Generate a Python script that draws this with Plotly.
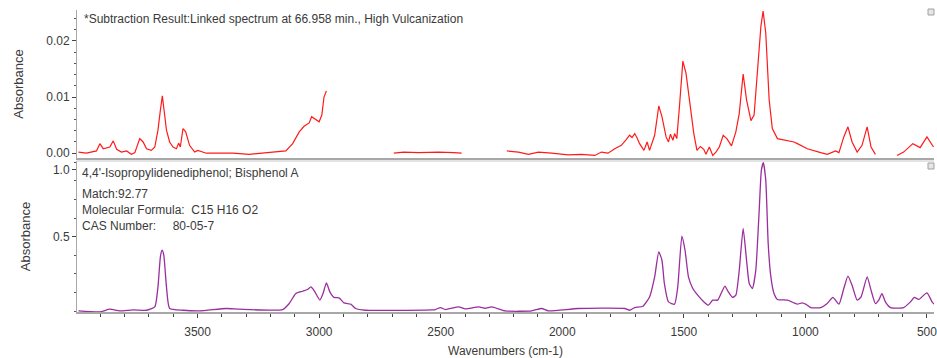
import plotly.graph_objects as go

# ---- Subtraction result spectrum (None = no data) ----
sub_wn = [3990, 3957, 3916, 3902, 3888, 3861, 3847, 3833, 3813, 3792, 3772, 3758,
          3738, 3724, 3710, 3690, 3676, 3663, 3653, 3645, 3638, 3628, 3615, 3601,
          3587, 3578, 3571, 3560, 3549, 3533, 3512, 3499, 3464, 3355, 3287, 3191,
          3137, 3109, 3082, 3062, 3041, 3031, 3016, 3000, 2989, 2980, 2970,
          None,
          2693, 2652, 2591, 2509, 2447, 2414,
          None,
          2228, 2180, 2139, 2098, 2044, 1976, 1921, 1866, 1839, 1812, 1784, 1757,
          1737, 1723, 1713, 1702, 1693, 1682, 1664, 1651, 1641, 1620, 1603, 1590,
          1573, 1563, 1555, 1545, 1538, 1529, 1518, 1504, 1491, 1477, 1459, 1446,
          1432, 1418, 1409, 1395, 1381, 1368, 1354, 1338, 1323, 1304, 1286, 1272,
          1256, 1242, 1224, 1211, 1197, 1183, 1174, 1163, 1149, 1136, 1115, 1074,
          1047, 1033, 992, 937, 910, 876, 862, 842, 825, 808, 787, 767, 746, 730, 712,
          None,
          623, 596, 558, 528, 500, 473]
sub_abs = [0.0002, 0.0000, 0.0004, 0.0017, 0.0008, 0.0011, 0.0022, 0.0007, 0.0002, 0.0004, -0.0002, 0.0001,
           0.0026, 0.0020, 0.0008, 0.0005, 0.0011, 0.0041, 0.0077, 0.0102, 0.0077, 0.0041, 0.0020, 0.0011,
           0.0008, 0.0018, 0.0011, 0.0044, 0.0038, 0.0014, 0.0002, 0.0005, 0.0000, 0.0000, -0.0002, 0.0001,
           0.0004, 0.0017, 0.0038, 0.0048, 0.0054, 0.0065, 0.0060, 0.0056, 0.0068, 0.0100, 0.0111,
           None,
           0.0000, 0.0002, 0.0001, 0.0002, 0.0001, 0.0000,
           None,
           0.0004, 0.0002, -0.0002, 0.0002, 0.0000, -0.0003, -0.0002, -0.0004, 0.0002, 0.0000, 0.0008, 0.0014,
           0.0024, 0.0032, 0.0028, 0.0035, 0.0028, 0.0017, 0.0005, 0.0020, 0.0005, 0.0032, 0.0084, 0.0065,
           0.0029, 0.0020, 0.0034, 0.0023, 0.0035, 0.0026, 0.0083, 0.0164, 0.0142, 0.0095, 0.0035, 0.0005,
           0.0012, 0.0007, -0.0002, 0.0011, -0.0004, 0.0002, 0.0011, 0.0032, 0.0026, 0.0013, 0.0038, 0.0071,
           0.0141, 0.0095, 0.0058, 0.0068, 0.0154, 0.0226, 0.0253, 0.0214, 0.0095, 0.0044, 0.0026, 0.0022,
           0.0020, 0.0017, 0.0008, 0.0001, -0.0002, 0.0004, 0.0001, 0.0029, 0.0047, 0.0020, 0.0002, 0.0014, 0.0047, 0.0011, -0.0002,
           None,
           -0.0004, 0.0002, 0.0017, 0.0010, 0.0029, 0.0011]

# ---- Library match: Bisphenol A ----
ref_wn = [3990, 3902, 3861, 3820, 3765, 3710, 3676, 3663, 3653, 3646, 3639, 3628,
          3615, 3560, 3492, 3382, 3328, 3150, 3123, 3096, 3068, 3048, 3034, 3020,
          2997, 2984, 2970, 2956, 2939, 2918, 2898, 2870, 2850, 2809, 2536, 2522,
          2501, 2481, 2426, 2399, 2344, 2317, 2290, 2235, 2126, 2085, 2057, 1935,
          1743, 1723, 1702, 1668, 1641, 1620, 1603, 1590, 1580, 1563, 1538, 1525,
          1508, 1495, 1481, 1463, 1443, 1415, 1399, 1381, 1361, 1347, 1331, 1317,
          1300, 1286, 1272, 1256, 1242, 1231, 1218, 1204, 1190, 1181, 1173, 1163,
          1153, 1142, 1129, 1115, 1074, 1047, 1033, 1013, 999, 978, 937, 910, 887,
          862, 842, 825, 808, 787, 771, 746, 730, 712, 698, 685, 671, 650, 596,
          568, 552, 534, 500, 479, 471]
ref_abs = [-0.050, -0.057, -0.037, -0.050, -0.042, -0.045, -0.020, 0.128, 0.351, 0.400, 0.363, 0.128,
           -0.032, -0.045, -0.050, -0.032, -0.037, -0.040, 0.005, 0.079, 0.096, 0.109, 0.128, 0.099,
           0.030, 0.079, 0.158, 0.091, 0.050, 0.047, 0.010, 0.000, -0.032, -0.045, -0.042, -0.040,
           -0.025, -0.040, -0.020, -0.035, -0.020, -0.030, -0.020, -0.050, -0.050, -0.032, -0.050, -0.032,
           -0.032, -0.045, -0.025, -0.015, 0.054, 0.203, 0.388, 0.326, 0.153, 0.017, 0.000, 0.128,
           0.504, 0.400, 0.203, 0.116, 0.067, 0.013, -0.007, 0.030, 0.030, 0.079, 0.134, 0.091,
           0.050, 0.067, 0.252, 0.562, 0.326, 0.153, 0.116, 0.252, 0.697, 0.994, 1.050, 0.920,
           0.450, 0.203, 0.079, 0.035, 0.030, 0.010, 0.000, 0.010, 0.000, -0.025, -0.025, 0.005, 0.050,
           0.000, 0.116, 0.208, 0.141, 0.030, 0.054, 0.203, 0.104, 0.005, 0.030, 0.079, 0.017, -0.025, -0.025,
           0.017, 0.050, 0.035, 0.084, 0.017, 0.000]

top_note = "*Subtraction Result:Linked spectrum at 66.958 min., High Vulcanization"
match_lines = ["4,4'-Isopropylidenediphenol; Bisphenol A",
               "Match:92.77",
               "Molecular Formula:  C15 H16 O2",
               "CAS Number:     80-05-7"]

W, H = 937, 358
ML, MR, MT, MB = 77, 0, 10, 46
PW, PH = W - ML - MR, H - MT - MB
FONT = "Liberation Sans, Arial, sans-serif"
TXT = "#3a3a3a"
AXC = "#a8a8a8"


def px(x):
    return (x - ML) / PW


def py(y):
    return (H - MB - y) / PH


fig = go.Figure()
fig.add_trace(go.Scatter(x=sub_wn, y=sub_abs, mode="lines", xaxis="x2", yaxis="y2",
                         line=dict(color="#ff1a1a", width=1.2), connectgaps=False,
                         hoverinfo="skip", showlegend=False))
fig.add_trace(go.Scatter(x=ref_wn, y=ref_abs, mode="lines", xaxis="x", yaxis="y",
                         line=dict(color="#9a2e9e", width=1.3, shape="spline", smoothing=0.5),
                         hoverinfo="skip", showlegend=False, cliponaxis=True))

xr = [3996, 471]
tick_font = dict(family=FONT, size=12, color=TXT)
fig.update_layout(
    width=W, height=H,
    margin=dict(l=ML, r=MR, t=MT, b=MB),
    paper_bgcolor="white", plot_bgcolor="white",
    font=dict(family=FONT, size=12, color=TXT),
    xaxis=dict(range=xr, anchor="y", domain=[0, 1], dtick=500, tick0=500,
               showgrid=False, zeroline=False, showline=True, linecolor=AXC, linewidth=2,
               ticks="outside", ticklen=4, tickcolor="#444", tickwidth=1,
               minor=dict(dtick=100, tick0=0, ticks="outside", ticklen=3, tickcolor="#444"),
               tickfont=tick_font, ticklabeloverflow="allow", ticklabelstandoff=4,
               title=dict(text="Wavenumbers (cm-1)", font=dict(family=FONT, size=12, color=TXT), standoff=10)),
    xaxis2=dict(range=xr, anchor="y2", matches="x", showticklabels=False, ticks="",
                showgrid=False, zeroline=False, showline=True, linecolor=AXC, linewidth=2),
    yaxis=dict(domain=[0, 0.5], range=[-0.058, 1.062], tickmode="array", tickvals=[0.5, 1.0],
               tickformat=".1f", showgrid=False, zeroline=False, showline=True,
               linecolor=AXC, linewidth=1, ticks="outside", ticklen=4, tickcolor="#444",
               minor=dict(tickmode="linear", tick0=0.5, dtick=0.138, ticks="outside", ticklen=2, tickcolor="#555"),
               tickfont=tick_font,
               title=dict(text="Absorbance", font=dict(family=FONT, size=13, color=TXT), standoff=19)),
    yaxis2=dict(domain=[0.51, 1], range=[-0.00085, 0.0255], dtick=0.01, tick0=0,
                tickformat=".2f", showgrid=False, zeroline=False, showline=True,
                linecolor=AXC, linewidth=1, ticks="outside", ticklen=4, tickcolor="#444",
                minor=dict(dtick=0.002, ticks="outside", ticklen=2, tickcolor="#555"),
                tickfont=tick_font,
                title=dict(text="Absorbance", font=dict(family=FONT, size=13, color=TXT), standoff=19)),
)

# top border of lower panel
fig.add_shape(type="line", xref="paper", yref="paper", x0=0, x1=1, y0=py(161), y1=py(161),
              line=dict(color="#c8c8c8", width=1))
# small panel markers at the right edge
for ytop in (9, 163):
    fig.add_shape(type="rect", xref="paper", yref="paper", x0=px(931), x1=px(937),
                  y0=py(ytop + 6), y1=py(ytop), line=dict(color="#a0a0a0", width=1),
                  fillcolor="#e6e6e6")

fig.add_annotation(xref="paper", yref="paper", x=px(82), y=py(19), text=top_note,
                   showarrow=False, xanchor="left", yanchor="middle",
                   font=dict(family=FONT, size=12, color=TXT))
for line, yy in zip(match_lines, (173, 194, 210, 226)):
    fig.add_annotation(xref="paper", yref="paper", x=px(80), y=py(yy), text=line,
                       showarrow=False, xanchor="left", yanchor="middle",
                       font=dict(family=FONT, size=12, color=TXT))

fig.write_html("out.html")
